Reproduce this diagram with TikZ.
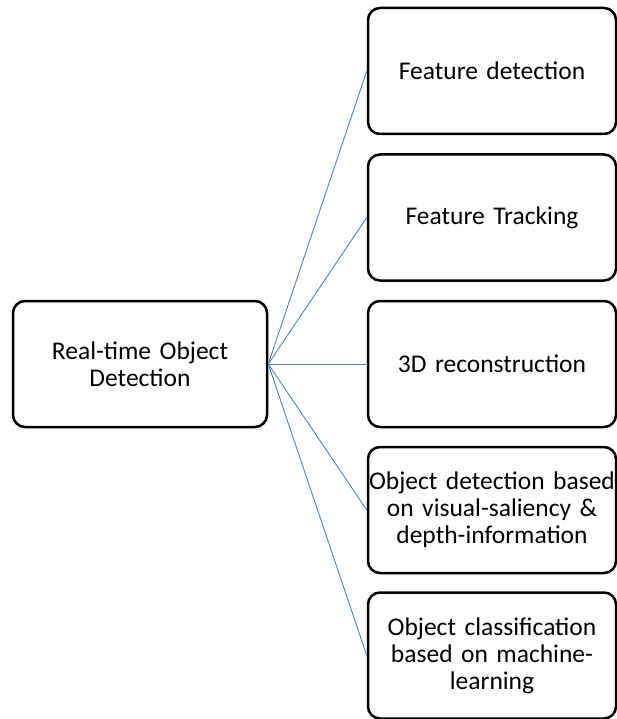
\documentclass[tikz,border=0pt]{standalone}
\usepackage{fontspec}
\setmainfont{Carlito}
\begin{document}
\begin{tikzpicture}[x=1pt,y=-1pt,
  box/.style={draw=black,line width=2.5pt,rounded corners=12pt,fill=white,
    minimum height=126pt,align=center,inner sep=2pt,font=\fontsize{25.5}{27}\selectfont},
  lbox/.style={box,minimum width=254pt,text width=240pt},
  rbox/.style={box,minimum width=244pt,text width=244pt},
  conn/.style={draw={rgb,255:red,79;green,129;blue,189},line width=0.9pt}]
\useasboundingbox (0,0) rectangle (616,719);
\node[lbox] (root) at (140,364) {Real-time Object\\Detection};
\node[rbox] (a) at (492,71) {Feature detection};
\node[rbox] (b) at (492,217.5) {Feature Tracking};
\node[rbox] (c) at (492,364) {3D reconstruction};
\node[rbox] (d) at (492,510) {\makebox[0pt]{Object detection based}\\on visual-saliency \&\\depth-information};
\node[rbox] (e) at (492,655.5) {Object classification\\based on machine-\\learning};
\foreach \t in {a,b,c,d,e} \draw[conn] (root.east) -- (\t.west);
\end{tikzpicture}
\end{document}
